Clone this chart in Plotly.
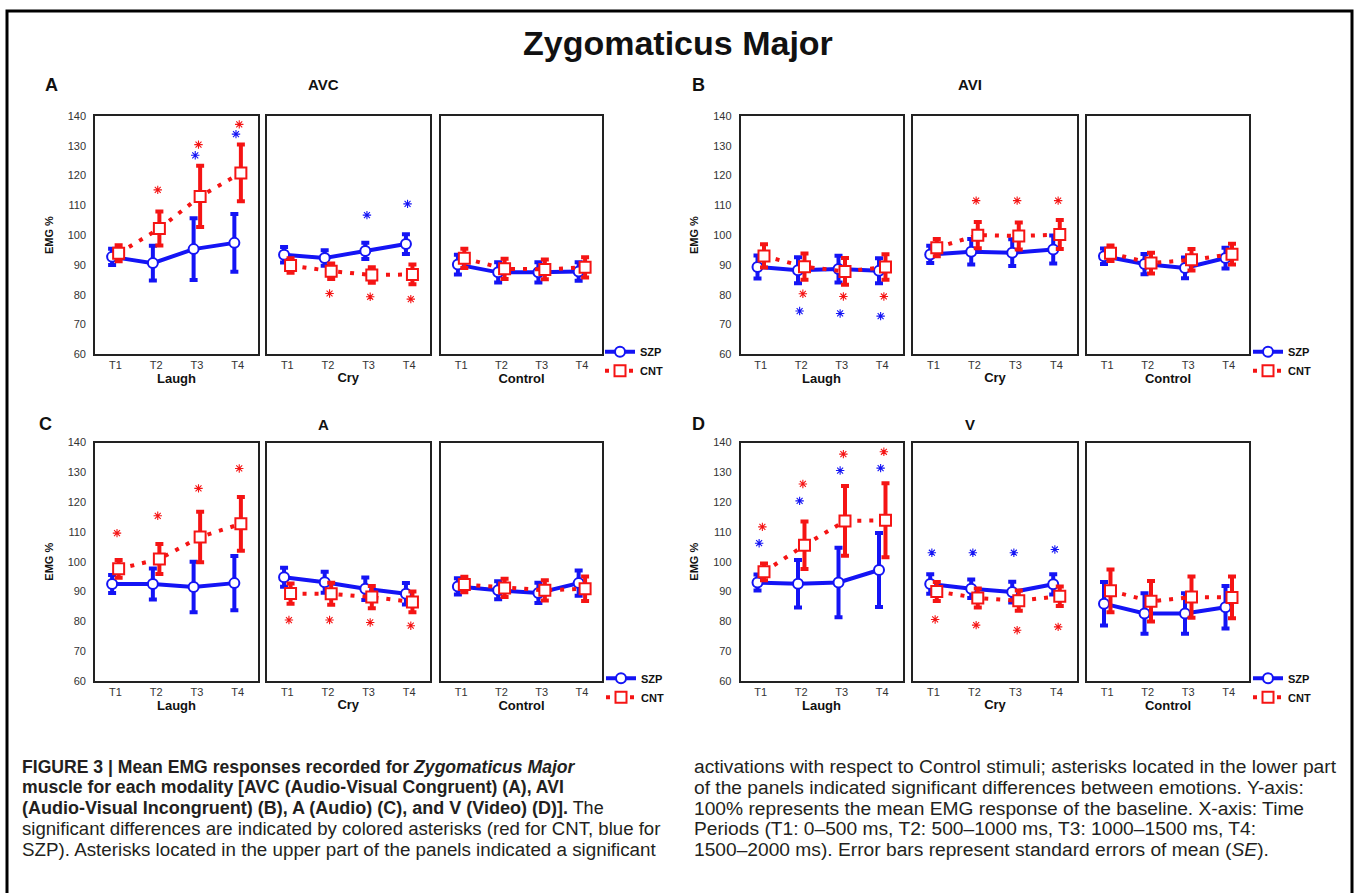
import numpy as np
import plotly.graph_objects as go

# ---------------- data ----------------
PERIODS = ["T1", "T2", "T3", "T4"]
CONDITIONS = ["Laugh", "Cry", "Control"]
MODALITIES = ["AVC", "AVI", "A", "V"]
PANEL_LETTERS = ["A", "B", "C", "D"]
GROUPS = ["SZP", "CNT"]
Y_TICKS = [60, 70, 80, 90, 100, 110, 120, 130, 140]

# each array: [Laugh, Cry, Control] x [T1..T4]
AVC_SZP_MEAN = [[92.7, 90.6, 95.3, 97.4], [93.4, 92.3, 94.7, 97.0], [90.1, 87.5, 87.5, 87.8]]
AVC_SZP_SE = [[2.7, 5.8, 10.4, 9.7], [2.6, 2.6, 2.7, 3.3], [3.3, 3.4, 3.4, 3.1]]
AVC_CNT_MEAN = [[93.9, 102.2, 113.0, 120.9], [89.8, 87.9, 86.6, 86.8], [92.2, 88.7, 88.5, 89.2]]
AVC_CNT_SE = [[2.7, 5.7, 10.3, 9.5], [2.4, 2.6, 2.6, 3.3], [3.2, 3.4, 3.3, 3.4]]

AVI_SZP_MEAN = [[89.3, 88.2, 88.6, 88.0], [93.5, 94.4, 94.1, 95.2], [92.9, 90.3, 89.0, 92.3]]
AVI_SZP_SE = [[3.9, 4.4, 4.5, 4.2], [2.9, 4.3, 4.5, 4.7], [2.6, 3.4, 3.5, 3.5]]
AVI_CNT_MEAN = [[93.0, 89.4, 87.8, 89.3], [95.8, 100.0, 99.7, 100.2], [93.9, 90.6, 91.7, 93.6]]
AVI_CNT_SE = [[3.9, 4.4, 4.5, 4.3], [2.9, 4.4, 4.5, 4.9], [2.6, 3.5, 3.6, 3.5]]

A_SZP_MEAN = [[92.5, 92.5, 91.5, 92.8], [94.8, 93.1, 90.9, 89.2], [91.7, 90.4, 89.5, 92.8]]
A_SZP_SE = [[3.0, 5.2, 8.5, 9.1], [3.2, 3.5, 3.8, 3.6], [2.7, 3.0, 3.4, 4.2]]
A_CNT_MEAN = [[97.6, 100.9, 108.3, 112.7], [89.3, 89.2, 88.1, 86.5], [92.3, 91.2, 90.4, 90.9]]
A_CNT_SE = [[3.0, 5.0, 8.5, 9.0], [3.4, 3.7, 3.7, 3.5], [2.6, 3.1, 3.4, 4.1]]

V_SZP_MEAN = [[93.0, 92.6, 93.0, 97.2], [92.5, 90.9, 89.8, 92.4], [85.9, 82.6, 82.6, 84.7]]
V_SZP_SE = [[2.7, 8.0, 11.7, 12.4], [3.3, 3.1, 3.5, 3.4], [7.3, 6.8, 6.8, 7.1]]
V_CNT_MEAN = [[96.6, 105.5, 113.7, 113.9], [90.0, 87.8, 86.9, 88.4], [90.2, 86.7, 88.1, 88.0]]
V_CNT_SE = [[2.8, 8.0, 11.7, 12.4], [3.2, 3.2, 3.4, 3.3], [7.2, 6.8, 6.9, 7.0]]

# significance asterisks: (condition, period, y, group)
AVC_STARS = [("Laugh", "T2", 115.2, "CNT"), ("Laugh", "T3", 130.4, "CNT"), ("Laugh", "T3", 126.8, "SZP"),
             ("Laugh", "T4", 137.2, "CNT"), ("Laugh", "T4", 133.9, "SZP"),
             ("Cry", "T3", 106.7, "SZP"), ("Cry", "T4", 110.5, "SZP"),
             ("Cry", "T2", 80.4, "CNT"), ("Cry", "T3", 79.3, "CNT"), ("Cry", "T4", 78.5, "CNT")]
AVI_STARS = [("Laugh", "T2", 80.3, "CNT"), ("Laugh", "T3", 79.4, "CNT"), ("Laugh", "T4", 79.4, "CNT"),
             ("Laugh", "T2", 74.5, "SZP"), ("Laugh", "T3", 73.7, "SZP"), ("Laugh", "T4", 72.8, "SZP"),
             ("Cry", "T2", 111.6, "CNT"), ("Cry", "T3", 111.6, "CNT"), ("Cry", "T4", 111.6, "CNT")]
A_STARS = [("Laugh", "T1", 109.6, "CNT"), ("Laugh", "T2", 115.4, "CNT"), ("Laugh", "T3", 124.6, "CNT"),
           ("Laugh", "T4", 131.3, "CNT"),
           ("Cry", "T1", 80.4, "CNT"), ("Cry", "T2", 80.4, "CNT"), ("Cry", "T3", 79.6, "CNT"), ("Cry", "T4", 78.5, "CNT")]
V_STARS = [("Laugh", "T1", 111.7, "CNT"), ("Laugh", "T1", 106.2, "SZP"), ("Laugh", "T2", 126.1, "CNT"),
           ("Laugh", "T2", 120.4, "SZP"), ("Laugh", "T3", 136.1, "CNT"), ("Laugh", "T3", 130.6, "SZP"),
           ("Laugh", "T4", 136.9, "CNT"), ("Laugh", "T4", 131.4, "SZP"),
           ("Cry", "T1", 103.0, "SZP"), ("Cry", "T2", 103.0, "SZP"), ("Cry", "T3", 103.0, "SZP"), ("Cry", "T4", 104.1, "SZP"),
           ("Cry", "T1", 80.6, "CNT"), ("Cry", "T2", 78.7, "CNT"), ("Cry", "T3", 77.0, "CNT"), ("Cry", "T4", 78.1, "CNT")]

MAIN_TITLE = "Zygomaticus Major"
CAPTION_LEFT = [
    "<b>FIGURE 3 | Mean EMG responses recorded for <i>Zygomaticus Major</i></b>",
    "<b>muscle for each modality [AVC (Audio-Visual Congruent) (A), AVI</b>",
    "<b>(Audio-Visual Incongruent) (B), A (Audio) (C), and V (Video) (D)].</b> The",
    "significant differences are indicated by colored asterisks (red for CNT, blue for",
    "SZP). Asterisks located in the upper part of the panels indicated a significant",
]
CAPTION_RIGHT = [
    "activations with respect to Control stimuli; asterisks located in the lower part",
    "of the panels indicated significant differences between emotions. Y-axis:",
    "100% represents the mean EMG response of the baseline. X-axis: Time",
    "Periods (T1: 0–500 ms, T2: 500–1000 ms, T3: 1000–1500 ms, T4:",
    "1500–2000 ms). Error bars represent standard errors of mean (<i>SE</i>).",
]

# ---------------- assembly ----------------
MEANS = {"AVC": {"SZP": AVC_SZP_MEAN, "CNT": AVC_CNT_MEAN}, "AVI": {"SZP": AVI_SZP_MEAN, "CNT": AVI_CNT_MEAN},
         "A": {"SZP": A_SZP_MEAN, "CNT": A_CNT_MEAN}, "V": {"SZP": V_SZP_MEAN, "CNT": V_CNT_MEAN}}
SES = {"AVC": {"SZP": AVC_SZP_SE, "CNT": AVC_CNT_SE}, "AVI": {"SZP": AVI_SZP_SE, "CNT": AVI_CNT_SE},
       "A": {"SZP": A_SZP_SE, "CNT": A_CNT_SE}, "V": {"SZP": V_SZP_SE, "CNT": V_CNT_SE}}
STARS = {"AVC": AVC_STARS, "AVI": AVI_STARS, "A": A_STARS, "V": V_STARS}

W, H = 1356, 893
FONT = "Liberation Sans, Arial, sans-serif"
CAP_FONT = "Liberation Sans, Arial, sans-serif"
BLUE = "#1414f5"
RED = "#f51414"
COLORS = {"SZP": BLUE, "CNT": RED}
OFFSET = {"SZP": -0.08, "CNT": 0.08}
STAR_OFFSET = {"SZP": -0.04, "CNT": 0.04}


def px(x):
    return x / W


def py(y):
    return 1 - y / H


COL_X = [[(95, 258), (267, 429.5), (441, 602)], [(740.5, 902.5), (913, 1077), (1087, 1249)]]
ROW_Y = [(111.5, 353), (442.5, 684)]
LEGEND_POS = [(600, 360), (1248, 360), (601, 691), (1248, 691)]
LETTER_POS = [(51, 80), (698, 80), (45, 424), (698, 424)]
MOD_TITLE_POS = [(323, 80), (970, 80), (323, 424), (970, 424)]
CAPTION_SIZES_LEFT = [17.6, 17.6, 18, 18.6, 18.8]
CAPTION_SIZE_RIGHT = 19.2

fig = go.Figure()
layout_axes = {}
pidx = np.arange(1, len(PERIODS) + 1)

for p, mod in enumerate(MODALITIES):
    row, col = p // 2, p % 2
    legend_name = "legend" if p == 0 else f"legend{p + 1}"
    for c, cond in enumerate(CONDITIONS):
        k = p * 3 + c + 1
        xa = "x" if k == 1 else f"x{k}"
        ya = "y" if k == 1 else f"y{k}"
        for g in GROUPS:
            color = COLORS[g]
            fig.add_trace(go.Scatter(
                x=pidx + OFFSET[g], y=MEANS[mod][g][c],
                error_y=dict(type="data", array=SES[mod][g][c], visible=True, color=color,
                             thickness=4, width=4),
                mode="lines+markers",
                line=dict(color=color, width=4, dash="solid" if g == "SZP" else "4px,8px"),
                marker=dict(symbol="circle" if g == "SZP" else "square", size=10 if g == "SZP" else 11,
                            color="white", line=dict(color=color, width=2)),
                name=g, showlegend=(c == 2), legend=legend_name,
                xaxis=xa, yaxis=ya, hoverinfo="skip", cliponaxis=False,
            ))
        stars = [s for s in STARS[mod] if s[0] == cond]
        for g in GROUPS:
            sg = [s for s in stars if s[3] == g]
            if not sg:
                continue
            fig.add_trace(go.Scatter(
                x=[PERIODS.index(s[1]) + 1 + STAR_OFFSET[g] for s in sg],
                y=[s[2] for s in sg], mode="markers",
                marker=dict(symbol="asterisk-open", size=7, color=COLORS[g],
                            line=dict(color=COLORS[g], width=1.1)),
                showlegend=False, xaxis=xa, yaxis=ya, hoverinfo="skip",
            ))
        x0, x1 = COL_X[col][c]
        yt, yb = ROW_Y[row]
        xkey = "xaxis" if k == 1 else f"xaxis{k}"
        ykey = "yaxis" if k == 1 else f"yaxis{k}"
        layout_axes[xkey] = dict(
            domain=[px(x0), px(x1)], anchor=ya, range=[0.5, 4.5],
            tickmode="array", tickvals=list(pidx), ticktext=PERIODS,
            showline=True, mirror=True, linecolor="#222", linewidth=1.6,
            ticks="", showgrid=False, zeroline=False, ticklabelstandoff=0,
            tickfont=dict(size=11, color="#333", family=FONT),
            title=dict(text=f"<b>{cond}</b>", font=dict(size=13, color="#111", family=FONT), standoff=3),
        )
        layout_axes[ykey] = dict(
            domain=[py(yb), py(yt)], anchor=xa, range=[60, 140],
            tickmode="array", tickvals=Y_TICKS, showticklabels=(c == 0),
            showline=True, mirror=True, linecolor="#222", linewidth=1.6,
            ticks="", showgrid=False, zeroline=False, ticklabelstandoff=5,
            tickfont=dict(size=11, color="#333", family=FONT),
            title=dict(text="<b>EMG %</b>" if c == 0 else "", font=dict(size=11, color="#111", family=FONT),
                       standoff=12),
        )
    lx, ly = LEGEND_POS[p]
    layout_axes[legend_name] = dict(
        x=px(lx), y=py(ly), xanchor="left", yanchor="middle", bgcolor="rgba(0,0,0,0)",
        font=dict(size=11, color="#111", family=FONT, weight="bold"), tracegroupgap=0, itemwidth=30,
    )

annotations = [dict(text=f"<b>{MAIN_TITLE}</b>", x=px(678), y=py(38), xref="paper", yref="paper",
                    xanchor="center", yanchor="middle",
                    showarrow=False, font=dict(size=34, color="#111", family=FONT))]
for p in range(4):
    lx, ly = LETTER_POS[p]
    annotations.append(dict(text=f"<b>{PANEL_LETTERS[p]}</b>", x=px(lx), y=py(ly), xref="paper", yref="paper",
                            xanchor="center", yanchor="middle",
                            showarrow=False, font=dict(size=18, color="#111", family=FONT)))
    tx, ty = MOD_TITLE_POS[p]
    annotations.append(dict(text=f"<b>{MODALITIES[p]}</b>", x=px(tx), y=py(ty), xref="paper", yref="paper",
                            xanchor="center", yanchor="middle",
                            showarrow=False, font=dict(size=15, color="#111", family=FONT)))
for i, line in enumerate(CAPTION_LEFT):
    annotations.append(dict(text=line, x=px(20), y=py(771 + 21 * i), xref="paper", yref="paper",
                            xanchor="left", yanchor="middle", showarrow=False,
                            font=dict(size=CAPTION_SIZES_LEFT[i], color="#231f20", family=CAP_FONT)))
for i, line in enumerate(CAPTION_RIGHT):
    annotations.append(dict(text=line, x=px(692), y=py(771 + 21 * i), xref="paper", yref="paper",
                            xanchor="left", yanchor="middle", showarrow=False,
                            font=dict(size=CAPTION_SIZE_RIGHT, color="#231f20", family=CAP_FONT)))

fig.update_layout(
    width=W, height=H, margin=dict(l=0, r=0, t=0, b=0),
    paper_bgcolor="white", plot_bgcolor="white",
    font=dict(family=FONT),
    annotations=annotations,
    shapes=[dict(type="rect", xref="paper", yref="paper", x0=px(7), x1=px(1352), y0=-0.05, y1=py(5),
                 line=dict(color="black", width=3), fillcolor="rgba(0,0,0,0)", layer="below")],
    **layout_axes,
)

fig.write_html("out.html", config={"displayModeBar": False},
               post_script="document.body.style.margin='0';document.body.style.overflow='hidden';")
